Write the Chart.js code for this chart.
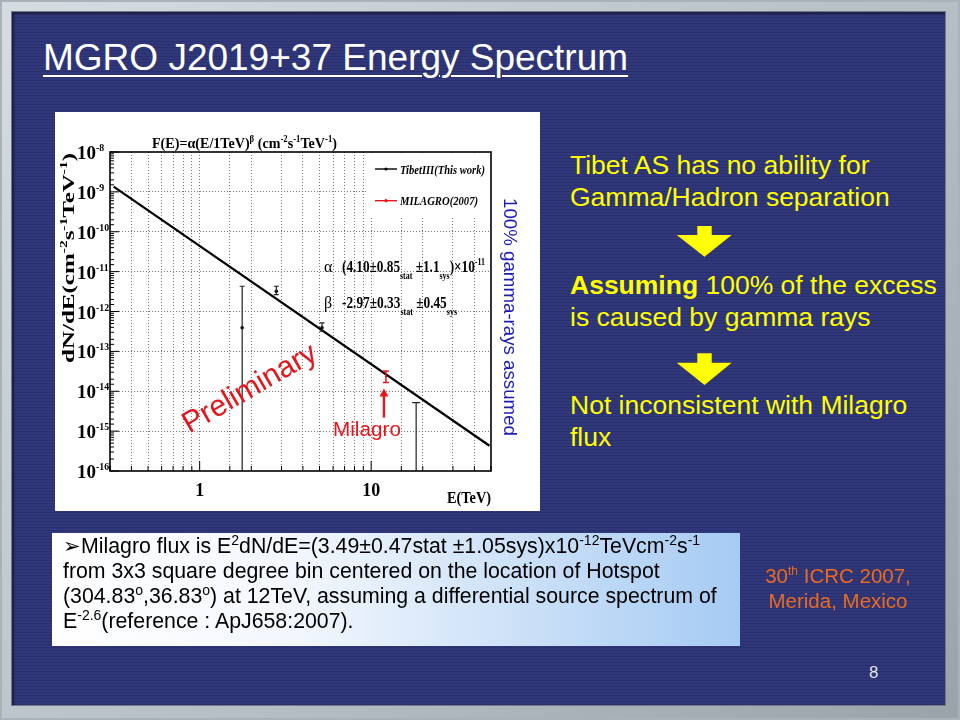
<!DOCTYPE html>
<html lang="en">
<head>
<meta charset="UTF-8">
<title>MGRO J2019+37 Energy Spectrum</title>
<script src="https://cdn.jsdelivr.net/npm/chart.js"></script>
<style>
    body {
        margin: 0;
        width: 960px;
        height: 720px;
        overflow: hidden;
        position: relative;
        background: #a9b1b9;
        font-family: 'Liberation Sans', Arial, sans-serif;
    }
    .frame {
        position: absolute;
        left: 2px; top: 2px; right: 2px; bottom: 2px;
        background: linear-gradient(135deg, #d6dce2, #b4bcc4 60%, #9aa2aa);
    }
    .slide {
        position: absolute;
        left: 12px; top: 12px;
        width: 933px; height: 693px;
        background: repeating-linear-gradient(to bottom, #31377b 0px, #31377b 2px, #2a306c 2px, #2a306c 3px);
        box-shadow: inset 2px 2px 2px rgba(0,0,0,0.45);
        outline: 1px solid #737b84;
    }
    .title {
        position: absolute;
        left: 43px; top: 39px;
        font-size: 37px;
        line-height: 37px;
        color: #fff;
        white-space: nowrap;
        text-decoration: underline;
        text-decoration-thickness: 2px;
        text-underline-offset: 5px;
    }
    .plot-bg {
        position: absolute;
        left: 55px; top: 112px;
        width: 485px; height: 399px;
        background: #fff;
    }
    #spectrum { position: absolute; left: 0; top: 0; }
    .yellow {
        position: absolute;
        left: 570px;
        font-size: 26.5px;
        line-height: 31.7px;
        color: #ffff00;
        white-space: nowrap;
    }
    .note {
        position: absolute;
        left: 52px; top: 533px;
        width: 677px; height: 112px;
        padding: 1px 0 0 11px;
        background: linear-gradient(to right, #ffffff 0%, #f3f7fd 35%, #a6cbf3 100%);
        font-size: 21.3px;
        line-height: 25px;
        color: #000;
        white-space: nowrap;
    }
    .note sup { font-size: 14px; line-height: 0; vertical-align: 8px; }
    .conf {
        position: absolute;
        left: 738px; top: 563px;
        width: 200px;
        text-align: center;
        font-size: 20.5px;
        line-height: 25px;
        color: #ea6b20;
    }
    .conf sup { font-size: 12px; line-height: 0; vertical-align: 8px; }
    .pagenum {
        position: absolute;
        left: 869px; top: 663px;
        font-size: 17px;
        color: #e6e8f2;
    }
    svg.arrows { position: absolute; left: 0; top: 0; }
</style>
</head>
<body>
<div class="frame"></div>
<div class="slide"></div>

<div class="title">MGRO J2019+37 Energy Spectrum</div>

<div class="plot-bg">
    <canvas id="spectrum" width="485" height="399"></canvas>
</div>

<div class="yellow" style="top:150px">Tibet AS has no ability for<br>Gamma/Hadron separation</div>
<div class="yellow" style="top:270px"><b>Assuming</b> 100% of the excess<br>is caused by gamma rays</div>
<div class="yellow" style="top:390px">Not inconsistent with Milagro<br>flux</div>

<svg class="arrows" width="960" height="720">
    <polygon fill="#ffff00" points="697.3,226 711.7,226 711.7,235 731.7,235 704.5,256.7 676.7,235 697.3,235"/>
    <polygon fill="#ffff00" points="697.3,353.3 711.7,353.3 711.7,362.7 731.7,362.7 704.5,385 676.7,362.7 697.3,362.7"/>
</svg>

<div class="note">&#x27A2;Milagro flux is E<sup>2</sup>dN/dE=(3.49&plusmn;0.47stat &plusmn;1.05sys)x10<sup>-12</sup>TeVcm<sup>-2</sup>s<sup>-1</sup><br>from 3x3 square degree bin centered on the location of Hotspot<br>(304.83<sup>o</sup>,36.83<sup>o</sup>) at 12TeV, assuming a differential source spectrum of<br>E<sup>-2.6</sup>(reference : ApJ658:2007).</div>

<div class="conf">30<sup>th</sup> ICRC 2007,<br>Merida, Mexico</div>
<div class="pagenum">8</div>

<script>
// power-law fit, drawn as a straight line on log-log axes (end points)
const fitE = [0.315, 49];
const fitFlux = [1.35e-9, 4.3e-16];

// Tibet III points; null flux = bar only (no marker)
const tibetE = [1.77, 2.8, 5.17, 18.3];
const tibetFlux = [3.9e-13, 3.2e-12, 3.9e-13, null];
const tibetHigh = [4.3e-12, 4.3e-12, 5.2e-13, 5.2e-15];
const tibetLow = [1e-16, 2.65e-12, 3.2e-13, 1e-16];

// Milagro 2007 point
const milagroE = [12.2];
const milagroFlux = [2.36e-14];
const milagroHigh = [3.2e-14];
const milagroLow = [1.65e-14];

// axis ranges and labelled ticks
const xRange = [0.3, 50];
const yRange = [1e-16, 1e-8];
const xLabelTicks = [1, 10];
const yExponents = [-8, -9, -10, -11, -12, -13, -14, -15, -16];

const SERIF = '"Liberation Serif", "Times New Roman", serif';
const SANS = '"Liberation Sans", Arial, sans-serif';

function isDecade(v) {
    const l = Math.log10(v);
    return Math.abs(l - Math.round(l)) < 1e-6;
}

// draw text made of runs: [text, kind] kind 0 normal, 1 superscript, -1 subscript
function drawRuns(ctx, runs, x, y, opt) {
    const fam = opt.family || SERIF;
    const font = s => (opt.style || 'normal') + ' ' + (opt.weight || 'normal') + ' ' + s + 'px ' + fam;
    const parts = runs.map(([t, k]) => {
        const s = k ? opt.size * (opt.small || 0.62) : opt.size;
        ctx.font = font(s);
        return { t, k, s, w: ctx.measureText(t).width };
    });
    const total = parts.reduce((a, p) => a + p.w, 0);
    const sx = opt.fit ? opt.fit / total : 1;
    const w = total * sx;
    const x0 = opt.align === 'center' ? x - w / 2 : opt.align === 'right' ? x - w : x;
    ctx.save();
    ctx.translate(x0, y);
    ctx.scale(sx, 1);
    ctx.fillStyle = opt.color || '#000';
    ctx.textAlign = 'left';
    ctx.textBaseline = opt.baseline || 'alphabetic';
    let cx = 0;
    parts.forEach(p => {
        ctx.font = font(p.s);
        const dy = p.k > 0 ? -opt.size * 0.42 : p.k < 0 ? opt.size * (opt.subDy || 0.3) : 0;
        ctx.fillText(p.t, cx, dy);
        cx += p.w;
    });
    ctx.restore();
}

const decorPlugin = {
    id: 'decor',
    afterDatasetsDraw(chart) {
        const { ctx, chartArea: a, scales: { x, y } } = chart;
        ctx.save();
        ctx.beginPath();
        ctx.rect(a.left, a.top, a.right - a.left, a.bottom - a.top);
        ctx.clip();
        const bar = (e, lo, hi, color, cap, lw) => {
            const px = x.getPixelForValue(e);
            const yl = y.getPixelForValue(Math.max(lo, y.min));
            const yh = y.getPixelForValue(hi);
            ctx.strokeStyle = color;
            ctx.lineWidth = lw;
            ctx.beginPath();
            ctx.moveTo(px, yl); ctx.lineTo(px, yh);
            ctx.moveTo(px - cap / 2, yh); ctx.lineTo(px + cap / 2, yh);
            if (lo > y.min * 1.01) { ctx.moveTo(px - cap / 2, yl); ctx.lineTo(px + cap / 2, yl); }
            ctx.stroke();
        };
        tibetE.forEach((e, i) => bar(e, tibetLow[i], tibetHigh[i], '#222', i === 3 ? 8 : 5, 1.2));
        milagroE.forEach((e, i) => bar(e, milagroLow[i], milagroHigh[i], '#e8141c', 6, 1.5));
        ctx.restore();
    },
    afterDraw(chart) {
        const { ctx, chartArea: a, scales: { x, y } } = chart;

        // legend box
        ctx.save();
        ctx.fillStyle = '#fff';
        ctx.fillRect(a.right - 123, a.top + 1, 122, 65);
        const legend = [
            ['TibetIII(This work)', '#000', 17, 85],
            ['MILAGRO(2007)', '#e8141c', 48.7, 78]
        ];
        legend.forEach(([txt, col, dy, fit]) => {
            ctx.strokeStyle = col;
            ctx.fillStyle = col;
            ctx.lineWidth = 1.4;
            ctx.beginPath();
            ctx.moveTo(a.right - 116, a.top + dy);
            ctx.lineTo(a.right - 94, a.top + dy);
            ctx.stroke();
            ctx.beginPath();
            ctx.arc(a.right - 105, a.top + dy, 1.6, 0, Math.PI * 2);
            ctx.fill();
            drawRuns(ctx, [[txt, 0]], a.right - 91, a.top + dy + 4.5,
                { size: 13, weight: 'bold', style: 'italic', fit: fit });
        });
        ctx.restore();

        // frame
        ctx.save();
        ctx.strokeStyle = '#000';
        ctx.lineWidth = 1.6;
        ctx.strokeRect(a.left, a.top, a.right - a.left, a.bottom - a.top);

        // inward ticks
        ctx.lineWidth = 1;
        ctx.beginPath();
        y.ticks.forEach(t => {
            const py = y.getPixelForValue(t.value);
            const len = isDecade(t.value) ? 9 : 4;
            ctx.moveTo(a.left, py); ctx.lineTo(a.left + len, py);
        });
        x.ticks.forEach(t => {
            const px = x.getPixelForValue(t.value);
            const len = isDecade(t.value) ? 10 : 5;
            ctx.moveTo(px, a.bottom); ctx.lineTo(px, a.bottom - len);
        });
        ctx.stroke();
        ctx.restore();

        // tick labels
        yExponents.forEach(ex => {
            const py = y.getPixelForValue(Math.pow(10, ex));
            drawRuns(ctx, [['10', 0], [String(ex), 1]], a.left - 33, py + 7,
                { size: 19, weight: 'bold', small: 0.52 });
        });
        xLabelTicks.forEach(v => {
            drawRuns(ctx, [[String(v), 0]], x.getPixelForValue(v), a.bottom + 25,
                { size: 18, weight: 'bold', align: 'center' });
        });
        drawRuns(ctx, [['E(TeV)', 0]], a.right, a.bottom + 32,
            { size: 17, weight: 'bold', align: 'right', fit: 44 });

        // plot title
        drawRuns(ctx, [['F(E)=\u03B1(E/1TeV)', 0], ['\u03B2', 1], [' (cm', 0], ['-2', 1], ['s', 0], ['-1', 1],
            ['TeV', 0], ['-1', 1], [')', 0]], a.left + 42, a.top - 4,
            { size: 15, weight: 'bold', fit: 185 });

        // y axis title
        ctx.save();
        ctx.translate(a.left - 36, a.top + 106);
        ctx.rotate(-Math.PI / 2);
        drawRuns(ctx, [['dN/dE(cm', 0], ['-2', 1], ['s', 0], ['-1', 1], ['TeV', 0], ['-1', 1], [')', 0]], 0, 0,
            { size: 16, weight: 'bold', align: 'center', fit: 210 });
        ctx.restore();

        // fit parameters
        drawRuns(ctx, [['\u03B1', 0]], a.left + 214, a.top + 120, { size: 16 });
        drawRuns(ctx, [['(4.10\u00B10.85', 0], ['stat', -1], [' \u00B11.1', 0], ['sys', -1], [')\u00D710', 0], ['-11', 1]],
            a.left + 232, a.top + 120, { size: 16, weight: 'bold', fit: 143, small: 0.6, subDy: 0.45 });
        drawRuns(ctx, [['\u03B2', 0]], a.left + 214, a.top + 156, { size: 16 });
        drawRuns(ctx, [['-2.97\u00B10.33', 0], ['stat', -1], [' \u00B10.45', 0], ['sys', -1]],
            a.left + 232, a.top + 156, { size: 16, weight: 'bold', fit: 115, small: 0.6, subDy: 0.45 });

        // Milagro marker arrow and label
        const mx = x.getPixelForValue(milagroE[0]) - 2;
        const tip = y.getPixelForValue(milagroLow[0]) + 6;
        ctx.save();
        ctx.strokeStyle = '#e8141c';
        ctx.fillStyle = '#e8141c';
        ctx.lineWidth = 2.4;
        ctx.beginPath();
        ctx.moveTo(mx, tip + 29); ctx.lineTo(mx, tip + 6);
        ctx.stroke();
        ctx.beginPath();
        ctx.moveTo(mx, tip); ctx.lineTo(mx - 4.5, tip + 8); ctx.lineTo(mx + 4.5, tip + 8);
        ctx.closePath(); ctx.fill();
        ctx.restore();
        drawRuns(ctx, [['Milagro', 0]], mx - 17, tip + 47,
            { size: 20, family: SANS, color: '#e8141c', align: 'center', fit: 68 });

        // Preliminary stamp
        ctx.save();
        ctx.translate(a.left + 140, a.top + 237);
        ctx.rotate(-30 * Math.PI / 180);
        drawRuns(ctx, [['Preliminary', 0]], 0, 0,
            { size: 30, family: SANS, color: '#e8141c', align: 'center', baseline: 'middle' });
        ctx.restore();

        // side note
        ctx.save();
        ctx.translate(a.right + 18, a.top + 165);
        ctx.rotate(Math.PI / 2);
        drawRuns(ctx, [['100% gamma-rays assumed', 0]], 0, 0,
            { size: 18.7, family: SANS, color: '#1c1cb4', align: 'center', baseline: 'middle', fit: 238 });
        ctx.restore();
    }
};

const gridColor = (lo, hi, decadesOnly) => c => {
    const v = c.tick && c.tick.value;
    if (!v || v <= lo * 1.001 || v >= hi * 0.999) return 'rgba(0,0,0,0)';
    if (decadesOnly && !isDecade(v)) return 'rgba(0,0,0,0)';
    return '#777';
};

new Chart(document.getElementById('spectrum'), {
    type: 'scatter',
    data: {
        datasets: [
            {
                type: 'line',
                data: fitE.map((e, i) => ({ x: e, y: fitFlux[i] })),
                borderColor: '#000',
                borderWidth: 2.2,
                pointRadius: 0,
                fill: false
            },
            {
                data: tibetE.map((e, i) => ({ x: e, y: tibetFlux[i] })).filter(p => p.y !== null),
                backgroundColor: '#000',
                borderWidth: 0,
                pointRadius: 1.8
            },
            {
                data: milagroE.map((e, i) => ({ x: e, y: milagroFlux[i] })),
                backgroundColor: '#e8141c',
                borderWidth: 0,
                pointRadius: 1
            }
        ]
    },
    options: {
        responsive: false,
        devicePixelRatio: 1,
        animation: false,
        events: [],
        layout: { padding: { left: 55, right: 49, top: 40, bottom: 40 } },
        plugins: { legend: { display: false }, tooltip: { enabled: false } },
        scales: {
            x: {
                type: 'logarithmic',
                min: xRange[0],
                max: xRange[1],
                afterFit: s => { s.height = 0; },
                ticks: { display: false },
                border: { display: false, dash: [1, 2] },
                grid: { drawTicks: false, lineWidth: 1, color: gridColor(xRange[0], xRange[1], false) }
            },
            y: {
                type: 'logarithmic',
                min: yRange[0],
                max: yRange[1],
                afterFit: s => { s.width = 0; },
                ticks: { display: false },
                border: { display: false, dash: [1, 2] },
                grid: { drawTicks: false, lineWidth: 1, color: gridColor(yRange[0], yRange[1], true) }
            }
        }
    },
    plugins: [decorPlugin]
});
</script>
</body>
</html>
